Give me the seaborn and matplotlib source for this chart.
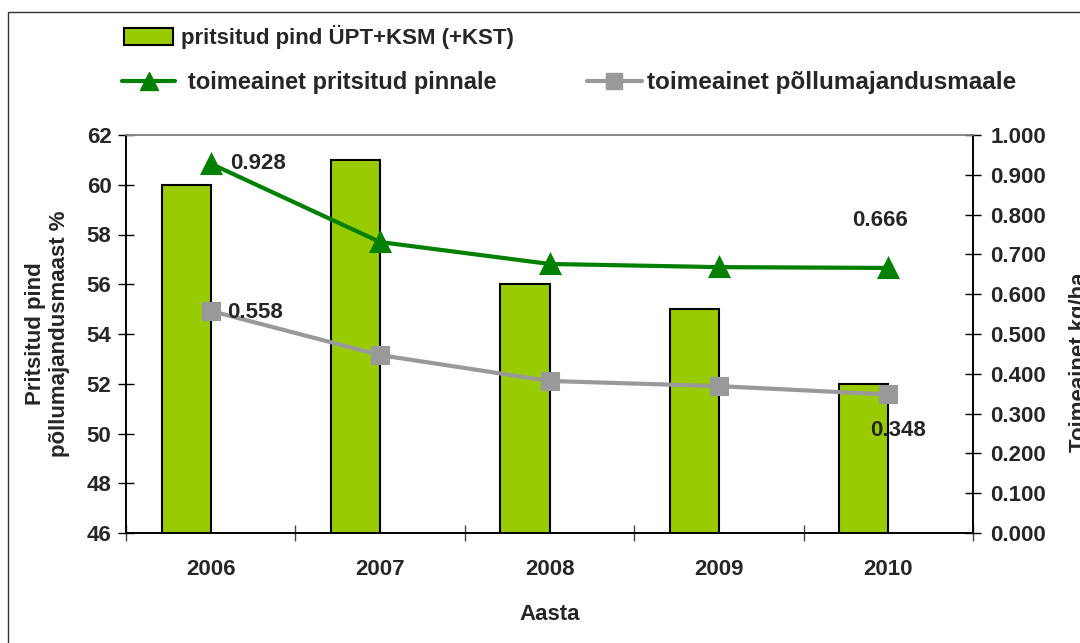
import numpy as np
import pandas as pd
import seaborn as sns
import matplotlib.pyplot as plt
from matplotlib.patches import Patch, Rectangle
from matplotlib.lines import Line2D
from matplotlib.ticker import FixedLocator, FormatStrFormatter

# === DONNEES ===
aastad = ["2006", "2007", "2008", "2009", "2010"]
pritsitud_pind = [60, 61, 56, 55, 52]              # % pollumajandusmaast
toime_pritsitud = [0.928, 0.731, 0.676, 0.668, 0.666]  # kg/ha
toime_pollumaa = [0.558, 0.447, 0.382, 0.369, 0.348]   # kg/ha

lbl_bar = "pritsitud pind ÜPT+KSM (+KST)"
lbl_green = "toimeainet pritsitud pinnale"
lbl_gray = "toimeainet põllumajandusmaale"

df = pd.DataFrame({"aasta": aastad, "pind": pritsitud_pind,
                   "pritsitud": toime_pritsitud, "pollumaa": toime_pollumaa})

# === STYLE ===
sns.set_style("white")
plt.rcParams["font.family"] = ["Liberation Sans", "DejaVu Sans"]
plt.rcParams["font.weight"] = "bold"
FS = 16
BAR_C = "#99CC00"
GREEN = "#008000"
GRAY = "#999999"

fig = plt.figure(figsize=(10.8, 6.43), dpi=100)
ax = fig.add_axes([126 / 1080, 1 - 533 / 643, (973 - 126) / 1080, (533 - 135) / 643])

# barres
sns.barplot(data=df, x="aasta", y="pind", color=BAR_C, edgecolor="black",
            linewidth=1.5, width=0.29, saturation=1, ax=ax)
for p in ax.patches:
    # la barre se termine au centre de la categorie (style Excel)
    p.set_x(p.get_x() - p.get_width() / 2)

ax.set_ylim(46, 62)
ax.set_yticks(np.arange(46, 63, 2))
ax.set_xlim(-0.5, len(aastad) - 0.5)

# lignes
ax2 = ax.twinx()
sns.pointplot(data=df, x="aasta", y="pritsitud", color=GREEN, markers="^",
              linestyles="-", linewidth=3, markersize=13, ax=ax2, errorbar=None)
sns.pointplot(data=df, x="aasta", y="pollumaa", color=GRAY, markers="s",
              linestyles="-", linewidth=3, markersize=11, ax=ax2, errorbar=None)
ax2.set_ylim(0, 1)
ax2.set_yticks(np.arange(0, 1.01, 0.1))
ax2.yaxis.set_major_formatter(FormatStrFormatter("%.3f"))
ax2.set_xlim(-0.5, len(aastad) - 0.5)
ax2.set_ylabel("")
ax2.set_xlabel("")

# etiquettes de valeurs
ann = dict(fontsize=FS, fontweight="bold", textcoords="offset points")
ax2.annotate(f"{toime_pritsitud[0]:.3f}", (0, toime_pritsitud[0]), xytext=(14, 0),
             ha="left", va="center", **ann)
ax2.annotate(f"{toime_pollumaa[0]:.3f}", (0, toime_pollumaa[0]), xytext=(12, -1),
             ha="left", va="center", **ann)
ax2.annotate(f"{toime_pritsitud[4]:.3f}", (4, toime_pritsitud[4]), xytext=(-6, 34),
             ha="center", va="center", **ann)
ax2.annotate(f"{toime_pollumaa[4]:.3f}", (4, toime_pollumaa[4]), xytext=(7, -26),
             ha="center", va="center", **ann)

# axes
for a in (ax, ax2):
    for s in ("left", "right", "bottom"):
        a.spines[s].set_color("black")
        a.spines[s].set_linewidth(1.2)
    a.spines["top"].set_color("#888888")
    a.spines["top"].set_linewidth(1.2)

ax.tick_params(axis="y", direction="inout", length=11, width=1, color="black",
               labelsize=FS, pad=5, left=True)
ax2.tick_params(axis="y", direction="inout", length=11, width=1, color="black",
                labelsize=FS, pad=7, right=True)
ax.tick_params(axis="x", which="major", length=0, labelsize=FS, pad=19)
ax.xaxis.set_minor_locator(FixedLocator(np.arange(-0.5, len(aastad), 1)))
ax.tick_params(axis="x", which="minor", direction="inout", length=11, width=1,
               color="#444444", bottom=True)
ax2.tick_params(axis="x", length=0)

ax.set_xlabel("Aasta", fontsize=FS, fontweight="bold", labelpad=17)
ax.set_ylabel("Pritsitud pind\npõllumajandusmaast %", fontsize=FS,
              fontweight="bold", labelpad=12)
# libelle de droite coupe au bord, comme dans l'original
fig.text(1080 / 1080, 1 - 362 / 643, "Toimeainet kg/ha", rotation=90,
         fontsize=FS, fontweight="bold", ha="center", va="center")

# legendes
h_bar = Patch(facecolor=BAR_C, edgecolor="black", linewidth=1.5)
h_green = Line2D([], [], color=GREEN, lw=3, marker="^", markersize=13)
h_gray = Line2D([], [], color=GRAY, lw=3, marker="s", markersize=11)
leg_kw = dict(frameon=False, borderaxespad=0, borderpad=0)
fig.legend([h_bar], [lbl_bar], loc="center left",
           bbox_to_anchor=(124 / 1080, 1 - 37 / 643), handlelength=2.2,
           handleheight=0.8, handletextpad=0.35,
           prop={"weight": "bold", "size": FS}, **leg_kw)
fig.legend([h_green], [lbl_green], loc="center left",
           bbox_to_anchor=(122 / 1080, 1 - 83 / 643), handlelength=2.25,
           handletextpad=0.55, prop={"weight": "bold", "size": 17}, **leg_kw)
fig.legend([h_gray], [lbl_gray], loc="center left",
           bbox_to_anchor=(587 / 1080, 1 - 83 / 643), handlelength=2.25,
           handletextpad=0.2, prop={"weight": "bold", "size": 17.5}, **leg_kw)

# cadre exterieur
fig.patches.append(Rectangle((8 / 1080, -0.1), 1.2, 1 - 12 / 643 + 0.1,
                             transform=fig.transFigure, fill=False,
                             edgecolor="#333333", linewidth=1))

fig.savefig("out.png", dpi=100)
